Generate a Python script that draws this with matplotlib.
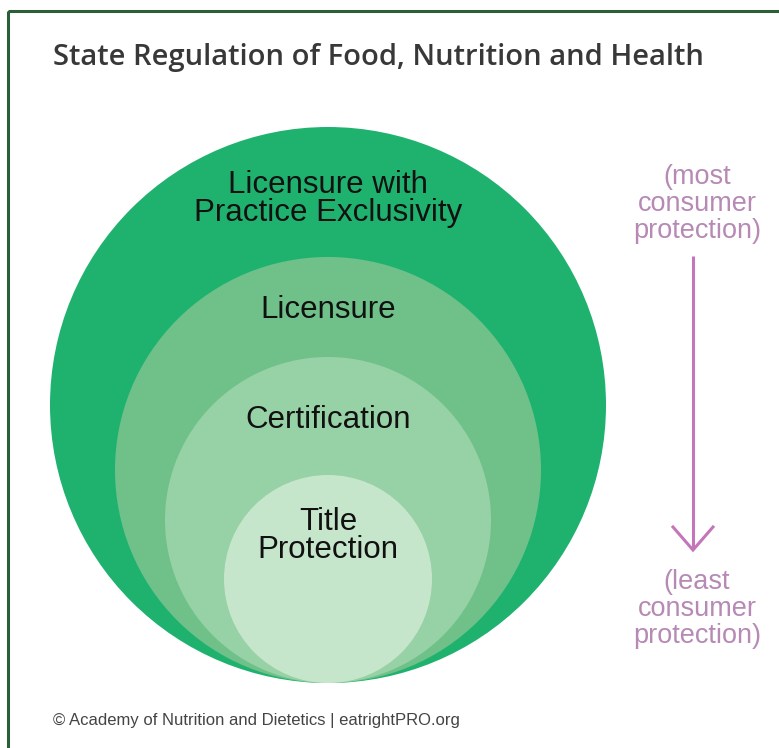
import matplotlib.pyplot as plt
from matplotlib.patches import Circle, Rectangle

# regulation levels, outer -> inner
levels = ['Licensure with\nPractice Exclusivity', 'Licensure',
          'Certification', 'Title\nProtection']
radii = [278, 213, 163, 104]
label_y = [199, 310, 420, 536]
colors = ['#1fb26f', '#6fc189', '#97d1a6', '#c6e6cc']

title = 'State Regulation of Food, Nutrition and Health'
top_note = '(most\nconsumer\nprotection)'
bottom_note = '(least\nconsumer\nprotection)'
credit = '\u00a9 Academy of Nutrition and Dietetics | eatrightPRO.org'

W, H = 779, 748
cx, base_y = 328, 683

fig = plt.figure(figsize=(W / 100, H / 100), dpi=100)
ax = fig.add_axes([0, 0, 1, 1])
ax.set_xlim(0, W)
ax.set_ylim(H, 0)
ax.set_aspect('equal')
ax.axis('off')

# frame (runs off the right and bottom edges)
ax.add_patch(Rectangle((8, 11), W + 20, H + 20, fill=False,
                       edgecolor='#2d5e3a', linewidth=2.2))

ax.text(53, 57, title, fontsize=21, fontweight='semibold',
        family='Open Sans', color='#383838', va='center', ha='left')

# nested circles, all touching at the bottom
for r, c in zip(radii, colors):
    ax.add_patch(Circle((cx, base_y - r), r, facecolor=c, edgecolor='none'))

for lab, y in zip(levels, label_y):
    ax.text(cx, y, lab, fontsize=22.5, family='Liberation Sans',
            color='#111111', ha='center', va='center', linespacing=0.92)

note_col = '#b68ab4'
ax.text(697, 204, top_note, fontsize=19.5, family='Liberation Sans',
        color=note_col, ha='center', va='center', linespacing=1.05)
ax.text(697, 609, bottom_note, fontsize=19.5, family='Liberation Sans',
        color=note_col, ha='center', va='center', linespacing=1.05)

arrow_col = '#c376b8'
ax.plot([693, 693], [256, 549], color=arrow_col, linewidth=2.2,
        solid_capstyle='butt')
ax.plot([673, 693, 713], [527, 550, 527], color=arrow_col, linewidth=2.2,
        solid_joinstyle='miter')

ax.text(53, 720, credit, fontsize=12, family='Liberation Sans',
        color='#444444', ha='left', va='center')

fig.savefig('out.png', dpi=100)
